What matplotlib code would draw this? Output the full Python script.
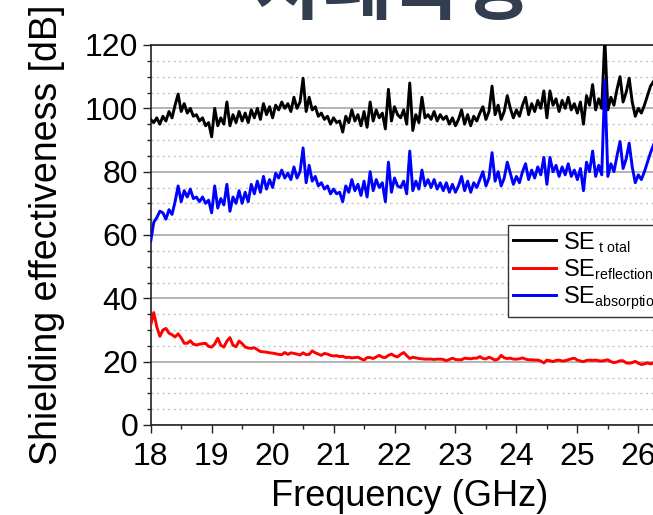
import numpy as np
import matplotlib
matplotlib.use("Agg")
import matplotlib.pyplot as plt
from matplotlib.ticker import MultipleLocator
try:
    import matplotlib._mathtext as _mt
    _mt.SHRINK_FACTOR = 0.6
except Exception:
    pass

plt.rcParams['font.family'] = ['Liberation Sans', 'DejaVu Sans']
plt.rcParams['mathtext.fontset'] = 'custom'
plt.rcParams['mathtext.rm'] = 'Liberation Sans'
plt.rcParams['mathtext.it'] = 'Liberation Sans'
plt.rcParams['mathtext.default'] = 'regular'

title_text = "차폐특성"
x_label = "Frequency (GHz)"
y_label = "Shielding effectiveness [dB]"
legend_labels = ["SE$_{\\ t\\ otal}$", "SE$_{reflection}$", "SE$_{absorption}$"]

f_start = 18.0
f_step = 0.05

se_total = [
    96.5, 95.5, 97, 95, 97.5, 96, 99, 97, 101, 104.5,
    99, 101.5, 98.5, 100, 97.5, 98, 96, 97, 94.5, 95.5,
    91, 100, 94.5, 97, 95, 102, 94.5, 98, 95.5, 99,
    96, 98.5, 95.5, 99.5, 97, 100, 96.5, 101.5, 98, 100.5,
    97, 101, 99.5, 102, 100, 101.5, 99, 103.5, 100, 102,
    109.5, 99, 103.5, 99.5, 100.5, 97.5, 98.5, 96.5, 97.5, 95,
    97, 95.5, 96, 92.5, 97.5, 95.5, 99.5, 96, 98, 94.5,
    99, 94, 102, 96, 99.5, 97, 98.5, 93.5, 106, 96,
    100.5, 98, 97, 99.5, 95, 108, 93, 98, 95.5, 103.5,
    97, 98, 96.5, 99, 96, 98, 96.5, 97.5, 95, 97,
    94.5, 96.5, 99.5, 95, 98, 94.5, 97.5, 96, 98.5, 100.5,
    96.5, 99, 107, 98, 101, 96.5, 99, 104, 100, 97,
    99.5, 97.5, 101, 103.5, 98, 101.5, 99, 102.5, 100, 105.5,
    97, 105.5, 101, 103, 99, 102.5, 100, 103.5, 99.5, 101.5,
    98.5, 102, 95, 104, 101, 107.5, 99.5, 103, 100, 122,
    99.5, 103.5, 101, 106, 110, 102, 105, 109.5, 102, 97.5,
    100, 98.5, 101, 104, 107, 108.5,
]

se_absorption = [
    58, 64, 65.5, 67.5, 67, 65, 68, 66.5, 70.5, 75.5,
    70.5, 74, 72, 74.5, 71.5, 72, 70.5, 72, 70, 71,
    67, 75.5, 68.5, 71.5, 69.5, 76, 67.5, 72, 70, 74,
    70, 73.5, 70.5, 76, 73, 77, 73.5, 78.5, 74.5, 77.5,
    75, 79.5, 78, 80.5, 78, 79.5, 77.5, 81.5, 78, 80,
    87.5, 76.5, 82, 77, 78.5, 75.5, 76.5, 74.5, 75.5, 73,
    74.5, 73, 73.5, 70.5, 75.5, 73.5, 77.5, 74, 76, 72.5,
    77, 72, 80, 74, 77.5, 75, 76.5, 70.5, 83, 73.5,
    78, 75.5, 75, 77, 73, 86.5, 74, 77, 74.5, 80.5,
    75.5, 77.5, 75, 77.5, 74.5, 76.5, 74, 76.5, 73.5, 76,
    73.5, 75.5, 78.5, 74, 77, 73.5, 76.5, 75, 77.5, 80,
    75.5, 78, 86, 77, 80, 75.5, 78, 83, 79.5, 76,
    78.5, 76.5, 80, 82.5, 77.5, 80.5, 78, 81.5, 79, 84.5,
    76, 84.5, 80, 82, 78.5, 81.5, 79, 82.5, 78.5, 80.5,
    77.5, 81, 74, 83, 80, 86.5, 78.5, 82, 79, 109,
    78.5, 82.5, 80, 85, 89.5, 81, 84, 89, 81.5, 76.5,
    79, 77.5, 80, 83, 86, 88.5,
]

se_reflection = [
    31.5, 35.5, 31, 28, 30, 30.5, 29, 28.5, 27.8, 28.8,
    27.5, 25.8, 25.8, 26.6, 25.5, 25.3, 25.5, 25.7, 25.8, 24.8,
    24.6, 25.6, 27.4, 25.2, 24.6, 26.5, 27.6, 25.2, 24.7, 26.5,
    25.7, 24.6, 24.3, 24.2, 24.4, 23.8, 23.2, 23.1, 23.0, 22.8,
    22.7, 22.5, 22.3, 22.2, 22.9, 22.3, 22.8, 22.6, 22.4, 22.1,
    22.8, 22.2, 22.3, 23.4, 22.8, 22.4, 22.0, 22.6, 22.4, 22.0,
    21.8, 21.9, 21.6, 21.7, 21.3, 21.4, 21.2, 21.3, 21.4, 20.9,
    20.5, 21.3, 21.3, 21.0, 21.5, 22.0, 21.4, 21.3, 22.0, 22.4,
    21.8, 21.5, 22.3, 22.9, 21.9, 21.0, 21.4, 21.2, 21.0, 20.9,
    20.8, 20.8, 20.8, 20.7, 20.8, 20.8, 20.7, 20.3, 20.7, 21.1,
    20.7, 20.6, 20.6, 21.1, 21.0, 20.9, 21.1, 21.1, 21.6, 21.0,
    20.9, 21.4, 21.0, 20.5, 20.8, 22.0, 21.2, 21.0, 21.1, 20.8,
    20.8, 20.9, 21.2, 20.8, 20.6, 20.6, 20.5, 20.5, 20.2, 19.6,
    20.5, 20.3, 20.0, 20.4, 20.5, 20.2, 20.3, 20.6, 20.9, 21.1,
    20.5, 20.2, 20.0, 20.4, 20.5, 20.4, 20.5, 20.3, 20.2, 20.4,
    20.6, 20.0, 19.7, 19.9, 20.3, 20.3, 19.6, 19.5, 19.7, 20.1,
    19.5, 19.1, 19.3, 19.6, 19.3, 19.6,
]

x_ticks = [18, 19, 20, 21, 22, 23, 24, 25, 26]
y_ticks = [0, 20, 40, 60, 80, 100, 120]

freq = f_start + f_step * np.arange(len(se_total))

W, H = 653, 515
fig = plt.figure(figsize=(W / 100, H / 100), dpi=100)
ax = fig.add_axes([150.7 / W, (H - 425) / H, (668.8 - 150.7) / W, 380 / H])

ax.plot(freq, se_total, color='black', lw=2.1, label=legend_labels[0], zorder=3)
ax.plot(freq, se_reflection, color='#ff0000', lw=2.1, label=legend_labels[1], zorder=3)
ax.plot(freq, se_absorption, color='#0000ff', lw=2.1, label=legend_labels[2], zorder=3)

ax.set_xlim(18, 26.5)
ax.set_ylim(0, 120)
ax.set_xticks(x_ticks)
ax.set_yticks(y_ticks)
ax.xaxis.set_minor_locator(MultipleLocator(0.5))
ax.yaxis.set_minor_locator(MultipleLocator(5))

ax.grid(True, which='major', axis='y', color='#a8a8a8', lw=1.2, ls='-', zorder=0)
ax.grid(True, which='minor', axis='y', color='#c4c4c4', lw=1.0, ls=(0, (1.5, 2.5)), zorder=0)
ax.set_axisbelow(True)

for s in ['left', 'bottom', 'top']:
    ax.spines[s].set_color('#222222')
    ax.spines[s].set_linewidth(1.2)
ax.spines['right'].set_visible(False)

ax.tick_params(which='major', direction='out', length=6, width=1.0, labelsize=23, color='#222222')
ax.tick_params(axis='x', which='major', pad=6)
ax.tick_params(axis='y', which='major', pad=3)
ax.tick_params(which='minor', direction='out', length=3, width=1.0, color='#222222')

ax.set_xlabel(x_label, fontsize=26, labelpad=5)
ax.set_ylabel(y_label, fontsize=27, labelpad=14)

leg = ax.legend(loc='upper left', bbox_to_anchor=(508 / W, 1 - 225 / H), bbox_transform=fig.transFigure,
                borderaxespad=0, fontsize=17, frameon=True, fancybox=False, handlelength=1.82,
                handletextpad=0.3, labelspacing=0.1, borderpad=0.2)
leg.get_frame().set_edgecolor('#333333')
leg.get_frame().set_linewidth(1.0)
leg.get_frame().set_alpha(1)

fig.text(392 / W, 1 - 13 / H, title_text, fontsize=54, color='#323e4f', ha='center', va='baseline',
         family=['Noto Sans CJK KR', 'DejaVu Sans'], weight='bold')

fig.savefig('out.png', dpi=100)
